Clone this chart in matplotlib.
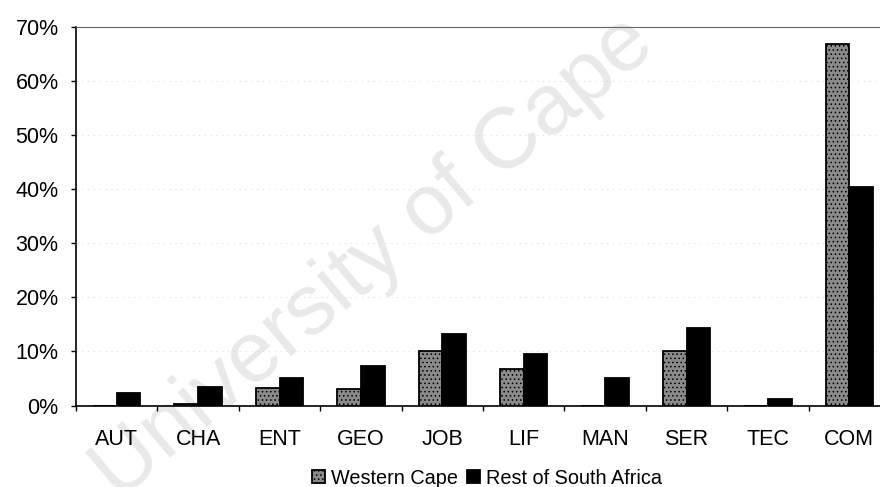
import matplotlib
matplotlib.use("Agg")
import matplotlib.pyplot as plt
import numpy as np
from matplotlib.ticker import PercentFormatter, FixedLocator

categories = ["AUT", "CHA", "ENT", "GEO", "JOB", "LIF", "MAN", "SER", "TEC", "COM"]
western_cape = [0.0, 0.2, 3.3, 3.1, 10.0, 6.8, 0.0, 10.0, 0.0, 66.8]
rest_of_sa = [2.3, 3.4, 5.0, 7.3, 13.3, 9.5, 5.1, 14.3, 1.2, 40.5]
series_names = ["Western Cape", "Rest of South Africa"]

plt.rcParams['font.family'] = ['Liberation Sans', 'DejaVu Sans']
plt.rcParams['hatch.color'] = '#d8d8d8'
plt.rcParams['hatch.linewidth'] = 0.6

fig = plt.figure(figsize=(8.8, 4.87), dpi=100)
ax = fig.add_axes([76/880, 81.5/487, 814/880, 378.5/487])
ax.set_zorder(2)
ax.patch.set_alpha(0)

# faint watermark behind the chart
fig.text(0.425, 0.47, "University of Cape", rotation=40, fontsize=62,
         color='#e9e9e9', ha='center', va='center', zorder=0,
         rotation_mode='anchor')

x = np.arange(len(categories))
w = 0.29
b1 = ax.bar(x - w/2, western_cape, w, color='#8a8a8a', edgecolor='black',
            linewidth=1.3, hatch='....', label=series_names[0], zorder=3)
b2 = ax.bar(x + w/2, rest_of_sa, w, color='black', edgecolor='black',
            linewidth=1.3, label=series_names[1], zorder=3)

ax.set_xlim(-0.5, len(categories) - 0.5)
ax.set_ylim(0, 70)
ax.yaxis.set_major_locator(FixedLocator(np.arange(0, 71, 10)))
ax.yaxis.set_major_formatter(PercentFormatter(decimals=0))
ax.set_xticks(x)
ax.set_xticklabels(categories)
ax.xaxis.set_minor_locator(FixedLocator(np.arange(-0.5, len(categories), 1)))
ax.tick_params(axis='x', which='major', length=0, pad=17, labelsize=15.5)
ax.tick_params(axis='x', which='minor', length=3.5, width=1, direction='out')
ax.tick_params(axis='y', length=3.5, width=1, direction='out', pad=9, labelsize=15.5)

ax.yaxis.grid(True, linestyle=(0, (1, 6)), color='#cccccc', linewidth=0.6, zorder=0)
ax.set_axisbelow(True)

ax.spines['right'].set_visible(False)
ax.spines['top'].set_linestyle((0, (1, 1)))
ax.spines['top'].set_color('#666666')
ax.spines['top'].set_linewidth(0.8)
ax.spines['left'].set_linewidth(1.2)
ax.spines['bottom'].set_linewidth(1.2)

leg = fig.legend(handles=[b1, b2], labels=series_names, loc='center',
                 bbox_to_anchor=(487/880, 1 - 478/487), ncol=2, frameon=False,
                 fontsize=14.3, handlelength=0.65, handleheight=0.65,
                 handletextpad=0.3, columnspacing=0.5, borderpad=0)
leg.set_zorder(3)

fig.savefig("out.png", dpi=100)
